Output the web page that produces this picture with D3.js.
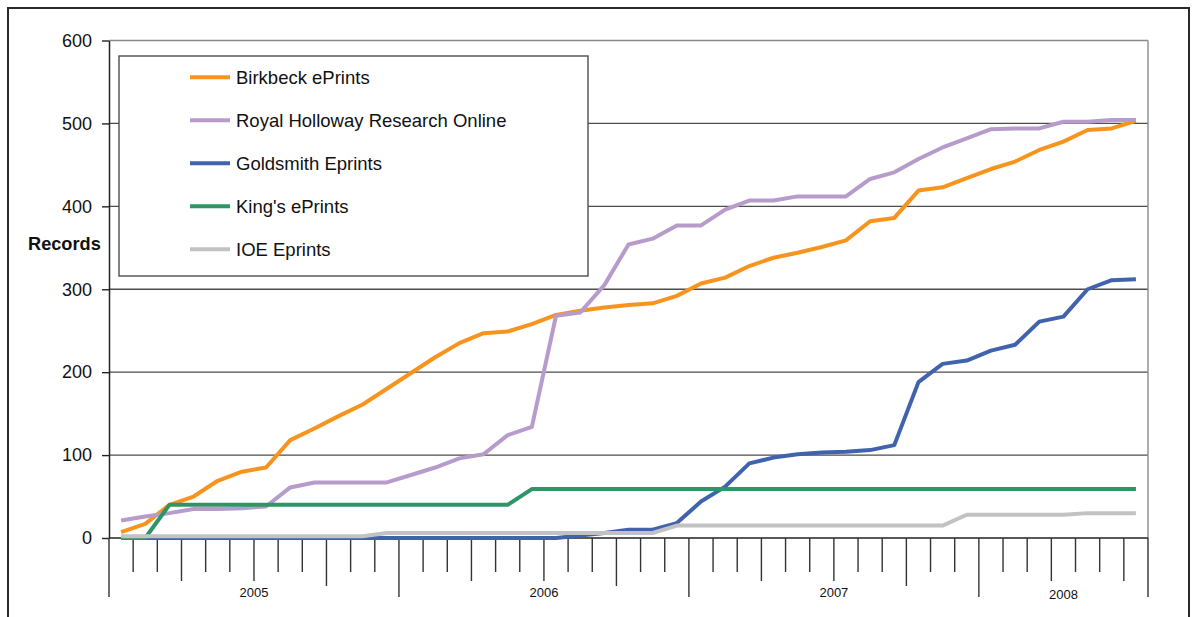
<!DOCTYPE html>
<html>
<head>
<meta charset="utf-8">
<script src="https://cdn.jsdelivr.net/npm/d3@7"></script>
<style>
  body { margin: 0; background: #fff; }
  svg { display: block; font-family: "Liberation Sans", Arial, sans-serif; }
</style>
</head>
<body>
<div id="chart"></div>
<script>
// category groups on the x axis (one category per month)
var years = ["2005", "2006", "2007", "2008"];
var monthsPerYear = [12, 12, 12, 7];

// series values, one per month
var birkbeck = [7, 17, 40, 50, 69, 80, 85, 118, 132, 147, 161, 180, 199, 218, 235, 247, 249, 258, 269, 274, 278, 281, 283, 292, 307, 314, 328, 338, 344, 351, 359, 382, 386, 419, 423, 434, 445, 454, 468, 478, 492, 494, 503];
var royalHolloway = [21, 26, 30, 35, 35, 36, 38, 61, 67, 67, 67, 67, 76, 85, 96, 101, 124, 134, 268, 272, 305, 354, 361, 377, 377, 396, 407, 407, 412, 412, 412, 433, 441, 457, 471, 482, 493, 494, 494, 502, 502, 504, 504];
var goldsmith = [0, 0, 0, 0, 0, 0, 0, 0, 0, 0, 0, 0, 0, 0, 0, 0, 0, 0, 0, 3, 6, 10, 10, 18, 44, 62, 90, 97, 101, 103, 104, 106, 112, 188, 210, 214, 226, 233, 261, 267, 300, 311, 312];
var kings = [0, 0, 40, 40, 40, 40, 40, 40, 40, 40, 40, 40, 40, 40, 40, 40, 40, 59, 59, 59, 59, 59, 59, 59, 59, 59, 59, 59, 59, 59, 59, 59, 59, 59, 59, 59, 59, 59, 59, 59, 59, 59, 59];
var ioe = [2, 2, 2, 2, 2, 2, 2, 2, 2, 2, 2, 6, 6, 6, 6, 6, 6, 6, 6, 6, 6, 6, 6, 15, 15, 15, 15, 15, 15, 15, 15, 15, 15, 15, 15, 28, 28, 28, 28, 28, 30, 30, 30];

var seriesNames = ["Birkbeck ePrints", "Royal Holloway Research Online", "Goldsmith Eprints", "King's ePrints", "IOE Eprints"];
var yTicks = [0, 100, 200, 300, 400, 500, 600];

var series = [
  { name: seriesNames[0], values: birkbeck, color: "#F7941E" },
  { name: seriesNames[1], values: royalHolloway, color: "#B79BCB" },
  { name: seriesNames[2], values: goldsmith, color: "#4163AE" },
  { name: seriesNames[3], values: kings, color: "#2E9566" },
  { name: seriesNames[4], values: ioe, color: "#C2C2C2" }
];

var svgWidth = 1196;
var svgHeight = 617;

var plot = { left: 109, right: 1148, top: 40.5, bottom: 538 };

var svg = d3.select("#chart")
  .append("svg")
  .attr("width", svgWidth)
  .attr("height", svgHeight);

// outer frame (runs past the bottom edge)
svg.append("rect")
  .attr("x", 8)
  .attr("y", 8)
  .attr("width", 1181)
  .attr("height", 700)
  .attr("fill", "none")
  .attr("stroke", "#2a2a2a")
  .attr("stroke-width", 2);

var nMonths = d3.sum(monthsPerYear);

var xScale = d3.scaleBand()
  .domain(d3.range(nMonths))
  .range([plot.left, plot.right])
  .padding(0);

var yScale = d3.scaleLinear()
  .domain([0, 600])
  .range([plot.bottom, plot.top]);

var xMid = i => xScale(i) + xScale.bandwidth() / 2;

// gridlines
svg.append("g")
  .selectAll("line")
  .data(yTicks.filter(d => d > 0))
  .enter()
  .append("line")
  .attr("x1", plot.left)
  .attr("x2", plot.right)
  .attr("y1", d => yScale(d))
  .attr("y2", d => yScale(d))
  .attr("stroke", d => d === 600 ? "#8a8a8a" : "#4d4d4d")
  .attr("stroke-width", 1.4);

// right border of the plot area
svg.append("line")
  .attr("x1", plot.right)
  .attr("x2", plot.right)
  .attr("y1", plot.top)
  .attr("y2", plot.bottom)
  .attr("stroke", "#8a8a8a")
  .attr("stroke-width", 1.4);

// y axis
var leftAxis = d3.axisLeft(yScale)
  .tickValues(yTicks)
  .tickSize(7)
  .tickSizeOuter(0)
  .tickPadding(10);

var yAxis = svg.append("g")
  .attr("transform", `translate(${plot.left}, 0)`)
  .call(leftAxis);

yAxis.select(".domain").attr("stroke", "#222").attr("stroke-width", 1.5);
yAxis.selectAll(".tick line").attr("stroke", "#222").attr("stroke-width", 1.4);
yAxis.selectAll(".tick text")
  .attr("font-size", 18)
  .attr("fill", "#111")
  .attr("font-family", "Liberation Sans, Arial, sans-serif");

svg.append("text")
  .attr("x", 28)
  .attr("y", 250)
  .attr("font-size", 18.2)
  .attr("font-weight", "bold")
  .attr("fill", "#111")
  .text("Records");

// x axis line and category ticks
svg.append("line")
  .attr("x1", plot.left)
  .attr("x2", plot.right)
  .attr("y1", plot.bottom)
  .attr("y2", plot.bottom)
  .attr("stroke", "#222")
  .attr("stroke-width", 1.5);

var boundaries = d3.range(nMonths + 1);
var yearStarts = [0];
monthsPerYear.forEach(function(m, i) {
  yearStarts.push(yearStarts[i] + m);
});

function tickEnd(i) {
  if (yearStarts.indexOf(i) >= 0) return 597;
  if (i % 3 === 0) return (i % 12 === 9) ? 586 : 581;
  return 572;
}

svg.append("g")
  .selectAll("line")
  .data(boundaries)
  .enter()
  .append("line")
  .attr("x1", d => d === nMonths ? plot.right : xScale(d))
  .attr("x2", d => d === nMonths ? plot.right : xScale(d))
  .attr("y1", plot.bottom)
  .attr("y2", d => tickEnd(d))
  .attr("stroke", "#333")
  .attr("stroke-width", 1.4);

// year labels centred under each group
svg.append("g")
  .selectAll("text")
  .data(years)
  .enter()
  .append("text")
  .attr("x", (d, i) => {
    var a = xScale(yearStarts[i]);
    var b = yearStarts[i + 1] === nMonths ? plot.right : xScale(yearStarts[i + 1]);
    return (a + b) / 2;
  })
  .attr("y", (d, i) => i === 3 ? 599 : 596.5)
  .attr("text-anchor", "middle")
  .attr("font-size", 13)
  .attr("fill", "#111")
  .text(d => d);

// series lines
var line = d3.line()
  .x((d, i) => xMid(i))
  .y(d => yScale(d));

svg.append("g")
  .selectAll("path")
  .data(series)
  .enter()
  .append("path")
  .attr("d", d => line(d.values))
  .attr("fill", "none")
  .attr("stroke", d => d.color)
  .attr("stroke-width", 4)
  .attr("stroke-linejoin", "round");

// legend
var legend = svg.append("g");

legend.append("rect")
  .attr("x", 119)
  .attr("y", 56)
  .attr("width", 469)
  .attr("height", 220)
  .attr("fill", "#fff")
  .attr("stroke", "#4d4d4d")
  .attr("stroke-width", 1.4);

var legendItems = legend.selectAll("g.item")
  .data(series)
  .enter()
  .append("g")
  .attr("class", "item")
  .attr("transform", (d, i) => `translate(0, ${77.3 + i * 43})`);

legendItems.append("line")
  .attr("x1", 190)
  .attr("x2", 230)
  .attr("y1", 0)
  .attr("y2", 0)
  .attr("stroke", d => d.color)
  .attr("stroke-width", 4);

legendItems.append("text")
  .attr("x", 236)
  .attr("y", 6.3)
  .attr("font-size", 18.5)
  .attr("fill", "#111")
  .text(d => d.name);
</script>
</body>
</html>
